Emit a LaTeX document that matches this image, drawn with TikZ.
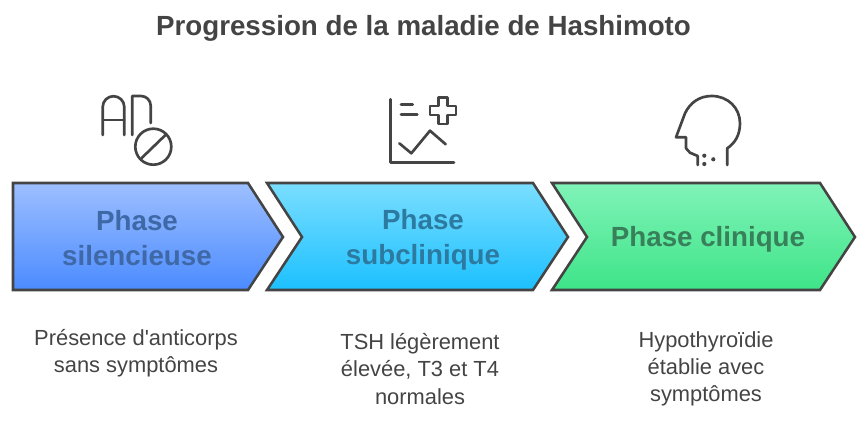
\documentclass[tikz,border=0pt]{standalone}
\usepackage{fontspec}
\setmainfont{Liberation Sans}
\definecolor{inkgrey}{HTML}{444444}
\definecolor{bluetext}{HTML}{3F68A6}
\definecolor{cyantext}{HTML}{2D7AA1}
\definecolor{greentext}{HTML}{37805A}
\tikzset{
  chevron/.style={draw=inkgrey, line width=1.9pt, line join=miter},
  phasetext/.style={align=center, font=\fontsize{20.8}{26.2}\selectfont\bfseries},
  desctext/.style={align=center, text=inkgrey, font=\fontsize{16.4}{20.4}\selectfont},
  iconline/.style={draw=inkgrey, line width=2pt, line cap=round, line join=round},
}
\begin{document}
\begin{tikzpicture}[x=0.75pt, y=-0.75pt]
        \useasboundingbox (0, 0) rectangle (868, 438);
        \node [text=inkgrey, font=\fontsize{20.8}{24}\selectfont\bfseries] (title) at (423.5, 28) {Progression de la maladie de Hashimoto};

        \path [chevron, top color={rgb,255:red,157;green,191;blue,255}, bottom color={rgb,255:red,75;green,139;blue,255}]
            (13, 183) -- (248, 183) -- (283, 237) -- (248, 290) -- (13, 290) -- cycle;
        \path [chevron, top color={rgb,255:red,122;green,222;blue,255}, bottom color={rgb,255:red,28;green,192;blue,255}]
            (267, 183) -- (533, 183) -- (568, 237) -- (533, 290) -- (267, 290) -- (302, 237) -- cycle;
        \path [chevron, top color={rgb,255:red,128;green,243;blue,184}, bottom color={rgb,255:red,62;green,228;blue,136}]
            (552, 183) -- (820, 183) -- (855, 237) -- (820, 290) -- (552, 290) -- (587, 237) -- cycle;

        \node [phasetext, text=bluetext] (silent) at (137, 238) {Phase\\silencieuse};
        \node [phasetext, text=cyantext] (subclinical) at (423, 239.5) {Phase\\subclinique};
        \node [phasetext, text=greentext] (clinical) at (708, 239) {Phase clinique};

        \node [desctext] (silentdesc) at (136, 353) {Présence d\textquotesingle anticorps\\sans symptômes};
        \node [desctext] (subclinicaldesc) at (420, 369) {TSH légèrement\\élevée, T3 et T4\\normales};
        \node [desctext] (clinicaldesc) at (706, 369) {Hypothyroïdie\\établie avec\\symptômes};

        % antibody icon
        \draw [iconline] (102.7, 135) -- (102.7, 107) arc [start angle=180, end angle=0, x radius=10.8, y radius=-10.8] -- (124.3, 135);
        \draw [iconline] (102.7, 120) -- (124.3, 120);
        \draw [iconline] (132.3, 135) -- (132.3, 96) -- (141, 96) arc [start angle=90, end angle=0, x radius=9.7, y radius=-9.7] -- (150.7, 123);
        \draw [iconline] (153.3, 146.7) circle [radius=18];
        \draw [iconline] (141.7, 158) -- (165.5, 135);

        % chart icon
        \draw [iconline] (390.7, 99.3) -- (390.7, 162.7) -- (454, 162.7);
        \draw [iconline] (401, 104.3) -- (412.7, 104.3);
        \draw [iconline] (401, 114.3) -- (417.3, 114.3);
        \draw [iconline] (399.3, 143.3) -- (411.3, 153.3) -- (430, 130.7) -- (445.7, 144.3);
        \draw [iconline] (438.3, 97.5) -- (447.3, 97.5) -- (447.3, 106) -- (456, 106) -- (456, 115) -- (447.3, 115)
            -- (447.3, 124) -- (438.3, 124) -- (438.3, 115) -- (430, 115) -- (430, 106) -- (438.3, 106) -- cycle;

        % head icon
        \draw [iconline] (697.7, 165) -- (697.7, 156) -- (690, 152.7) -- (686, 148.3) -- (686, 137.3) -- (676, 137.3) -- (685, 113.3)
            .. controls (690, 103) and (699, 96) .. (711.7, 96)
            .. controls (728, 96) and (740, 108) .. (740, 123.3)
            .. controls (740, 135) and (735, 143) .. (727.3, 148.3) -- (727.3, 165);
        \fill [inkgrey] (704.3, 155.7) circle [radius=2.1];
        \fill [inkgrey] (713.3, 159.3) circle [radius=2.1];
        \fill [inkgrey] (704.3, 164) circle [radius=2.1];
        \end{tikzpicture}
\end{document}
